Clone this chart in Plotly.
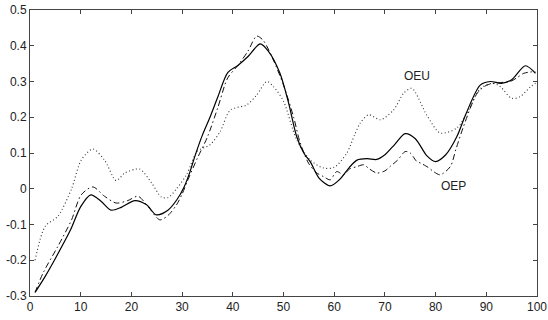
import plotly.graph_objects as go

# Solid curve (unlabelled)
solid_x = [1, 3, 5, 8, 10, 12, 14, 16, 18, 20.7, 23, 24.9, 27.2, 29, 30.4, 31.5, 32.5, 34, 35.5, 37, 39, 41, 43, 45.4,
           47, 49.3, 51, 52.6, 54, 55.3, 57, 59.2, 61, 63, 64.5, 66.5, 68.4, 70, 72, 74, 76, 78.3, 80, 82, 84.2, 86,
           88.8, 90.8, 93, 95, 97.7, 99.7]
solid_y = [-0.29, -0.245, -0.195, -0.115, -0.05, -0.017, -0.035, -0.06, -0.052, -0.033, -0.045, -0.073, -0.06, -0.03,
           0.005, 0.045, 0.09, 0.15, 0.2, 0.255, 0.325, 0.345, 0.37, 0.405,
           0.385, 0.323, 0.24, 0.146, 0.1, 0.075, 0.03, 0.008, 0.025, 0.06, 0.08, 0.084, 0.082, 0.095, 0.125, 0.154,
           0.14, 0.092, 0.076, 0.095, 0.146, 0.21,
           0.29, 0.30, 0.295, 0.305, 0.344, 0.323]

# Dash-dot curve (OEP)
oep_x = [1, 2.6, 5.5, 8.2, 10.1, 12.4, 14.7, 17, 19.3, 21.3, 23.3, 25.6, 27.2, 28.9, 30, 31, 33, 35, 37, 39, 41, 43,
         44.7, 46, 48, 50, 52, 53.3, 55, 56.5, 57.9, 59.2, 60.5, 61.9, 63, 64.5, 65.8, 67, 68.4, 70, 71, 72.5, 74,
         75, 76.3, 77, 78.5, 79.6, 80.9, 82.9, 84, 85.5, 88.2, 90.1, 92.8, 94.7, 96, 97.4, 99.7]
oep_y = [-0.29, -0.235, -0.161, -0.087, -0.017, 0.005, -0.021, -0.04, -0.033, -0.021, -0.05, -0.087, -0.075, -0.045,
         -0.015, 0.02, 0.085, 0.145, 0.225, 0.31, 0.345, 0.385,
         0.427, 0.415, 0.36, 0.29, 0.2, 0.128, 0.07, 0.045, 0.034, 0.025, 0.048, 0.039, 0.055, 0.062, 0.067, 0.055,
         0.044, 0.05, 0.062, 0.08, 0.104,
         0.1, 0.076, 0.072, 0.06, 0.048, 0.039, 0.062, 0.11, 0.174, 0.267, 0.29, 0.297, 0.30, 0.31, 0.323, 0.328]

# Dotted curve (OEU)
oeu_x = [1, 3, 5.5, 8.2, 10.1, 12.4, 14.7, 17, 18.7, 21.6, 24, 25.9, 27.2, 28.9, 30.9, 33, 35.5, 37.5, 39.5, 42.8,
         44.7, 46.7, 48, 50, 52.6, 55.3, 57.9, 60, 62.5, 64, 65.1, 66.8, 69.1, 71.7, 73.7, 75.3, 78.3, 80.9, 84.2,
         86.5, 88.8, 91.4, 92.8, 95, 96.7, 98.7, 99.7]
oeu_y = [-0.2, -0.105, -0.077, 0.0, 0.08, 0.111, 0.08, 0.023, 0.044, 0.055, 0.016, -0.023, -0.025, 0.0, 0.04,
         0.105, 0.123, 0.16, 0.22, 0.235,
         0.262, 0.30, 0.286, 0.245, 0.137, 0.08, 0.058, 0.06, 0.1, 0.15, 0.183, 0.207, 0.193, 0.22, 0.267, 0.281,
         0.205, 0.156, 0.17, 0.22, 0.28, 0.295, 0.285, 0.253, 0.258, 0.285, 0.295]

x_ticks = [0, 10, 20, 30, 40, 50, 60, 70, 80, 90, 100]
x_tick_text = ["0", "10", "20", "30", "40", "50", "60", "70", "80", "90", "100"]
y_ticks = [-0.3, -0.2, -0.1, 0, 0.1, 0.2, 0.3, 0.4, 0.5]
y_tick_text = ["-0.3", "-0.2", "-0.1", "0", "0.1", "0.2", "0.3", "0.4", "0.5"]

labels = [("OEU", 76.3, 0.316), ("OEP", 83.5, 0.008)]

fig = go.Figure()
fig.add_trace(go.Scatter(x=oeu_x, y=oeu_y, mode="lines", name="OEU",
                         line=dict(color="#333333", width=1.1, dash="1px,2.5px", shape="spline", smoothing=0.8)))
fig.add_trace(go.Scatter(x=oep_x, y=oep_y, mode="lines", name="OEP",
                         line=dict(color="#111111", width=1.0, dash="6px,3px,1.5px,3px", shape="spline", smoothing=0.8)))
fig.add_trace(go.Scatter(x=solid_x, y=solid_y, mode="lines", name="solid",
                         line=dict(color="#000000", width=1.2, shape="spline", smoothing=0.8)))

for text, lx, ly in labels:
    fig.add_annotation(x=lx, y=ly, text=text, showarrow=False,
                       font=dict(family="Liberation Sans, Arial, sans-serif", size=12, color="#222222"))

axis_common = dict(showgrid=False, zeroline=False, showline=True, linecolor="#444444", linewidth=1,
                   mirror="ticks", ticks="inside", ticklen=4, tickcolor="#444444", tickwidth=1,
                   automargin=False,
                   tickfont=dict(family="Liberation Sans, Arial, sans-serif", size=12, color="#222222"))

fig.update_layout(
    width=548, height=320,
    margin=dict(l=30, r=11, t=10, b=24),
    paper_bgcolor="white", plot_bgcolor="white",
    showlegend=False,
    xaxis=dict(range=[0, 100], tickmode="array", tickvals=x_ticks, ticktext=x_tick_text, **axis_common),
    yaxis=dict(range=[-0.3, 0.5], tickmode="array", tickvals=y_ticks, ticktext=y_tick_text, **axis_common),
)

fig.write_html("out.html", config={"displayModeBar": False},
               post_script="document.body.style.margin='0';document.body.style.overflow='hidden';")
